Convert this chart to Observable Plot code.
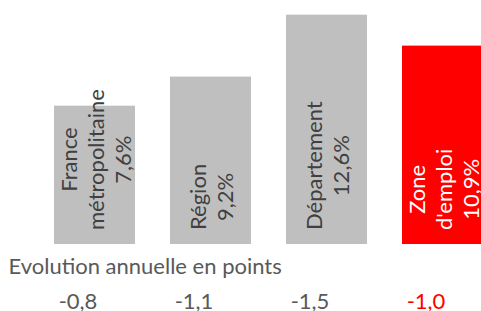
<!DOCTYPE html>
<html>
<head>
<meta charset="utf-8">
<script src="https://cdn.jsdelivr.net/npm/d3@7"></script>
<script src="https://cdn.jsdelivr.net/npm/@observablehq/plot@0.6"></script>
<style>
  html, body { margin: 0; padding: 0; background: #ffffff; }
  #chart svg { display: block; background: #ffffff; }
</style>
</head>
<body>
<div id="chart"></div>
<script>
// ---- Data ----
const zones = ["France métropolitaine", "Région", "Département", "Zone d'emploi"];
const labelLines = [["France", "métropolitaine"], ["Région"], ["Département"], ["Zone", "d'emploi"]];
const taux = [7.6, 9.2, 12.6, 10.9];          // taux de chômage (%)
const evolution = [-0.8, -1.1, -1.5, -1.0];  // évolution annuelle en points
const highlight = "Zone d'emploi";
const rowTitle = "Evolution annuelle en points";

// ---- Style ----
const FONT = "Lato, 'Open Sans', sans-serif";
const FS = 22;
const GREY = "#BFBFBF", RED = "#FF0000", TXT = "#595959", LBL = "#404040";

const fr = v => v.toFixed(1).replace(".", ",");
const data = zones.map((z, i) => ({
  zone: z,
  taux: taux[i],
  evol: evolution[i],
  lines: labelLines[i],
  label: labelLines[i].join("\n") + "\n" + fr(taux[i]) + "%"
}));

const ctx = document.createElement("canvas").getContext("2d");
ctx.font = `${FS}px ${FONT}`;
const longest = d => Math.max(...d.label.split("\n").map(s => ctx.measureText(s).width));

const labelMarks = data.map(d => Plot.text([d], {
  x: "zone",
  frameAnchor: "bottom",
  text: "label",
  rotate: -90,
  textAnchor: "middle",
  lineAnchor: "middle",
  lineHeight: 1.23,
  fontSize: FS,
  fontFamily: FONT,
  fill: d.zone === highlight ? "#FFFFFF" : LBL,
  dy: -(14.5 + longest(d) / 2)
}));

const chart = Plot.plot({
  width: 481,
  height: 311,
  marginLeft: 0,
  marginRight: 0,
  marginTop: 0,
  marginBottom: 67,
  style: { background: "#ffffff", fontFamily: FONT },
  x: { domain: zones, range: [53, 483], paddingInner: 0.304, paddingOuter: 0, axis: null },
  y: { domain: [0, 13], range: [244, 244 - 13 * 18.2], axis: null },
  marks: [
    Plot.barY(data, {
      x: "zone",
      y: "taux",
      fill: d => d.zone === highlight ? RED : GREY
    }),
    ...labelMarks,
    Plot.text([rowTitle], {
      frameAnchor: "bottom-left",
      text: d => d,
      textAnchor: "start",
      lineAnchor: "middle",
      dx: 8,
      dy: 22,
      fontSize: FS,
      fontFamily: FONT,
      fill: TXT
    }),
    Plot.text(data, {
      x: "zone",
      frameAnchor: "bottom",
      text: d => fr(d.evol),
      textAnchor: "middle",
      lineAnchor: "middle",
      dx: -17,
      dy: 57,
      fontSize: FS,
      fontFamily: FONT,
      fill: d => d.zone === highlight ? RED : TXT
    })
  ]
});
document.getElementById("chart").appendChild(chart);
</script>
</body>
</html>
